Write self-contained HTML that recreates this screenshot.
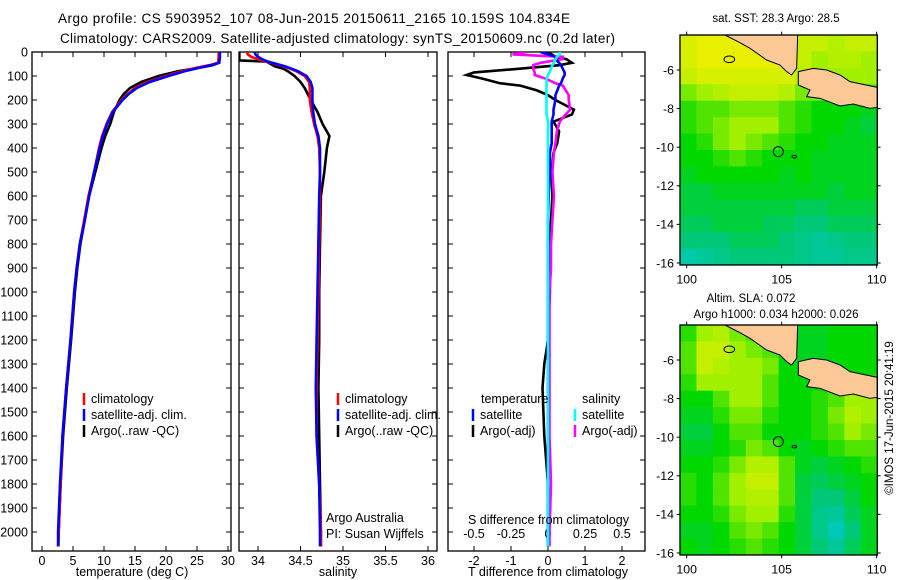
<!DOCTYPE html>
<html><head><meta charset="utf-8"><style>
html,body{margin:0;padding:0;background:#fff;}
svg{display:block;font-family:"Liberation Sans",sans-serif;}
</style></head><body>
<svg id="c" width="900" height="580" viewBox="0 0 900 580"></svg>
<script>
// ---------- data ----------
const depthTicks = [0,100,200,300,400,500,600,700,800,900,1000,1100,1200,1300,1400,1500,1600,1700,1800,1900,2000];
const tempTicks = [0,5,10,15,20,25,30];
const salTicks = [34,34.5,35,35.5,36];
const salTickLabels = ["34","34.5","35","35.5","36"];
const tdiffTicks = [-2,-1,0,1,2];
const sdiffTicks = [-0.5,-0.25,0,0.25,0.5];
const sdiffTickLabels = ["-0.5","-0.25","0","0.25","0.5"];

const depthT = [0,20,45,55,65,80,100,125,150,175,200,250,300,350,400,500,600,700,800,900,1000,1200,1400,1600,1800,2000,2060];
const climT = [28.5,28.5,28.4,27,25,22.5,20,17,15,13.8,12.8,11.3,10.4,9.7,9.2,8.4,7.5,6.8,6.1,5.6,5.2,4.6,3.9,3.3,3.0,2.7,2.6];
const satT  = [28.7,28.7,28.6,27.3,25.5,23,20.4,17.4,15.3,14,13,11.4,10.5,9.8,9.3,8.4,7.6,6.9,6.1,5.6,5.2,4.6,3.9,3.3,2.9,2.6,2.6];
const argoT = [28.6,28.6,28.5,27.5,25.5,22,18.8,16,14.2,13.2,12.5,11.6,11,10.2,9.6,8.6,7.6,6.9,6.2,5.7,5.3,4.7,4.0,3.4,3.0,2.7,2.65];

const depthS = [0,10,20,30,35,40,50,60,70,80,100,125,150,200,250,300,350,400,500,600,800,1000,1200,1400,1600,1800,2000,2060];
const climS = [33.87,33.88,33.92,34.0,34.05,34.1,34.2,34.3,34.38,34.45,34.55,34.6,34.61,34.61,34.63,34.66,34.7,34.72,34.73,34.73,34.72,34.71,34.70,34.69,34.69,34.72,34.74,34.74];
const satS  = [33.96,33.97,34.0,34.05,34.08,34.12,34.22,34.32,34.4,34.47,34.57,34.62,34.64,34.64,34.65,34.67,34.71,34.73,34.73,34.72,34.71,34.7,34.69,34.68,34.69,34.72,34.73,34.73];
const argoS = [33.78,33.78,33.78,33.78,33.78,34.1,34.15,34.2,34.3,34.35,34.43,34.5,34.55,34.62,34.7,34.76,34.84,34.81,34.78,34.74,34.73,34.72,34.72,34.71,34.72,34.73,34.74,34.74];

const depthD = [0,10,20,30,45,55,70,85,96,110,130,140,160,180,200,240,260,290,330,380,420,500,600,700,800,900,1000,1200,1300,1400,1600,1800,2000,2060];
const argoDT = [-0.05,0.1,0.2,0.5,0.65,0.3,-0.8,-2.0,-2.2,-1.8,-1.3,-0.75,-0.3,0,0.2,0.7,0.65,0.15,0.3,0.25,0.15,0.1,0.12,0.08,0.05,0.05,0.05,0.0,-0.1,-0.15,-0.1,0.0,0.0,0.0];
const satDT  = [-0.2,0,0.2,0.2,0.3,0.35,0.4,0.45,0.45,0.4,0.35,0.3,0.25,0.2,0.2,0.15,0.15,0.1,0.1,0.1,0.05,0.05,0.02,0,0,0,0,0,0,0,0,0,0,0];
const argoDS = [-0.15,-0.24,0.1,0.1,-0.05,-0.1,-0.1,-0.09,-0.09,-0.02,0.05,0.1,0.12,0.14,0.14,0.15,0.12,0.08,0.06,0.05,0.04,0.03,0.04,0.03,0.02,0.02,0.01,0.01,0.01,0.01,0.01,0.02,0.01,0.01];
const satDS  = [0.08,0.08,0.06,0.05,0.04,0.03,0.02,0.01,0,-0.01,-0.01,-0.01,-0.01,-0.01,-0.01,-0.01,-0.01,0,0,0,0,0,0,0,0,0,0,0,0,0,0,0,0,0];

const sstGrid = [
[0.85,0.9,0.9,0.9,0.9,0.9,0.9,0.8,0.8,0.75,0.8,0.8],
[0.85,0.9,0.9,0.9,0.9,0.9,0.9,0.8,0.7,0.75,0.75,0.7],
[0.8,0.85,0.85,0.85,0.85,0.85,0.85,0.75,0.7,0.7,0.7,0.7],
[0.65,0.7,0.75,0.8,0.8,0.8,0.75,0.65,0.65,0.65,0.65,0.6],
[0.55,0.6,0.6,0.65,0.65,0.65,0.6,0.55,0.5,0.5,0.5,0.45],
[0.55,0.6,0.65,0.7,0.7,0.7,0.6,0.55,0.5,0.5,0.45,0.4],
[0.5,0.55,0.65,0.7,0.65,0.6,0.55,0.5,0.5,0.45,0.45,0.45],
[0.5,0.5,0.55,0.6,0.55,0.5,0.5,0.5,0.45,0.45,0.45,0.45],
[0.45,0.5,0.5,0.5,0.5,0.5,0.45,0.5,0.45,0.45,0.45,0.45],
[0.4,0.4,0.45,0.45,0.45,0.45,0.45,0.45,0.45,0.4,0.45,0.45],
[0.4,0.4,0.4,0.4,0.4,0.4,0.4,0.35,0.35,0.4,0.4,0.4],
[0.35,0.35,0.4,0.4,0.4,0.35,0.35,0.3,0.3,0.35,0.35,0.35],
[0.3,0.3,0.3,0.35,0.35,0.35,0.3,0.25,0.2,0.25,0.3,0.3],
[0.15,0.2,0.25,0.3,0.3,0.3,0.3,0.25,0.2,0.2,0.25,0.25]];
const slaGrid = [
[0.55,0.7,0.75,0.65,0.6,0.55,0.5,0.45,0.45,0.5,0.5,0.5],
[0.6,0.8,0.8,0.7,0.65,0.6,0.5,0.45,0.45,0.5,0.5,0.5],
[0.6,0.8,0.75,0.7,0.7,0.65,0.5,0.45,0.45,0.5,0.5,0.5],
[0.55,0.7,0.7,0.7,0.7,0.6,0.5,0.5,0.5,0.55,0.55,0.55],
[0.5,0.5,0.6,0.7,0.7,0.6,0.5,0.5,0.55,0.6,0.7,0.7],
[0.45,0.45,0.55,0.65,0.65,0.55,0.5,0.5,0.55,0.65,0.75,0.7],
[0.4,0.4,0.5,0.6,0.6,0.5,0.5,0.5,0.55,0.6,0.7,0.65],
[0.45,0.45,0.5,0.55,0.65,0.6,0.5,0.45,0.5,0.55,0.6,0.6],
[0.5,0.5,0.55,0.65,0.75,0.75,0.6,0.45,0.4,0.45,0.5,0.55],
[0.55,0.5,0.6,0.7,0.8,0.8,0.6,0.4,0.35,0.4,0.45,0.5],
[0.55,0.5,0.6,0.7,0.75,0.75,0.6,0.4,0.3,0.3,0.4,0.5],
[0.5,0.5,0.55,0.65,0.7,0.7,0.55,0.4,0.25,0.2,0.35,0.45],
[0.45,0.45,0.5,0.6,0.65,0.6,0.5,0.4,0.25,0.1,0.3,0.45],
[0.5,0.45,0.5,0.55,0.6,0.55,0.5,0.4,0.3,0.2,0.35,0.45]];
const latTicks = [-6,-8,-10,-12,-14,-16];
const lonTicks = [100,105,110];

// ---------- helpers ----------
const NS = "http://www.w3.org/2000/svg";
const svg = document.getElementById("c");
function mk(tag, attrs, parent){const e=document.createElementNS(NS,tag);for(const k in attrs)e.setAttribute(k,attrs[k]);(parent||svg).appendChild(e);return e;}
function txt(s, attrs, parent){const e=mk("text",attrs,parent);e.textContent=s;return e;}

const Y0=52, YB=551;
const yD = d => Y0 + d*0.24;
const xT = t => 42 + t*6.2;
const xS = s => 258 + (s-34)*85;
const xDT = v => 548 + v*37;
const xDS = v => 548 + v*148;

const panels=[[32,231],[239,437],[448,645]];
panels.forEach((p,i)=>{
  const r=mk("rect",{x:p[0],y:Y0,width:p[1]-p[0],height:YB-Y0,fill:"none",stroke:"#000","stroke-width":1.3});
  
  
  depthTicks.forEach(d=>{
    mk("line",{x1:p[0],x2:p[0]+5,y1:yD(d),y2:yD(d),stroke:"#000","stroke-width":1});
    mk("line",{x1:p[1]-5,x2:p[1],y1:yD(d),y2:yD(d),stroke:"#000","stroke-width":1});
  });
});
depthTicks.forEach(d=>{
  const t=txt(String(d),{x:28,y:yD(d)+4.5,"text-anchor":"end","font-size":12.5});
  
  
});
function xticks(vals,labels,fx,p,ly){
  vals.forEach((v,i)=>{
    const x=fx(v);
    mk("line",{x1:x,x2:x,y1:Y0,y2:Y0+5,stroke:"#000"});
    mk("line",{x1:x,x2:x,y1:YB-5,y2:YB,stroke:"#000"});
    const t=txt(labels[i],{x:x,y:ly,"text-anchor":"middle","font-size":12.5});
    
    
  });
}
xticks(tempTicks,tempTicks.map(String),xT,panels[0],565);
xticks(salTicks,salTickLabels,xS,panels[1],565);
xticks(tdiffTicks,tdiffTicks.map(String),xDT,panels[2],565);
sdiffTicks.forEach((v,i)=>{
  const t=txt(sdiffTickLabels[i],{x:xDS(v),y:538,"text-anchor":"middle","font-size":12.5});
  
  
});

function line(depths,vals,fx,color,name,clip){
  const pts=depths.map((d,i)=>fx(vals[i]).toFixed(1)+","+yD(Math.min(d,2078)).toFixed(1)).join(" ");
  const l=mk("polyline",{points:pts,fill:"none",stroke:color,"stroke-width":2.6,"stroke-linejoin":"miter","clip-path":clip});
  
  
}
const defs=mk("defs",{});
panels.forEach((p,i)=>{const cp=mk("clipPath",{id:"cp"+i},defs);mk("rect",{x:p[0],y:Y0,width:p[1]-p[0],height:YB-Y0},cp);});

line(depthT,argoT,xT,"#000","argo-temperature-line","url(#cp0)");
line(depthT,climT,xT,"#f00","climatology-temperature-line","url(#cp0)");
line(depthT,satT,xT,"#00f","satellite-temperature-line","url(#cp0)");
line(depthS,argoS,xS,"#000","argo-salinity-line","url(#cp1)");
line(depthS,climS,xS,"#f00","climatology-salinity-line","url(#cp1)");
line(depthS,satS,xS,"#00f","satellite-salinity-line","url(#cp1)");
line(depthD,argoDT,xDT,"#000","argo-t-diff-line","url(#cp2)");
line(depthD,argoDS,xDS,"#f0f","argo-s-diff-line","url(#cp2)");
line(depthD,satDT,xDT,"#00f","satellite-t-diff-line","url(#cp2)");
line(depthD,satDS,xDS,"#0ff","satellite-s-diff-line","url(#cp2)");

// legends
function leg(x,y,color,label,name){
  mk("line",{x1:x,x2:x,y1:y-10,y2:y+2,stroke:color,"stroke-width":2.5});
  const t=txt(label,{x:x+7,y:y,"font-size":12.5});
  
  
}
leg(84,403,"#f00","climatology","legend-climatology");
leg(84,419,"#00f","satellite-adj. clim.","legend-satellite-adj");
leg(84,435,"#000","Argo(..raw -QC)","legend-argo");
leg(338,403,"#f00","climatology","legend-climatology-2");
leg(338,419,"#00f","satellite-adj. clim.","legend-satellite-adj-2");
leg(338,435,"#000","Argo(..raw -QC)","legend-argo-2");
txt("temperature",{x:481,y:403,"font-size":12.5});
txt("salinity",{x:582,y:403,"font-size":12.5});
leg(473,419,"#00f","satellite","legend-t-satellite");
leg(473,435,"#000","Argo(-adj)","legend-t-argo");
leg(575,419,"#0ff","satellite","legend-s-satellite");
leg(575,435,"#f0f","Argo(-adj)","legend-s-argo");
txt("Argo Australia",{x:326,y:522,"font-size":12.5});
txt("PI: Susan Wijffels",{x:326,y:538,"font-size":12.5});
txt("S difference from climatology",{x:468,y:524,"font-size":12.5});

// axis titles
[["temperature (deg C)",132,"x-axis-title-temperature"],["salinity",338,"x-axis-title-salinity"],["T difference from climatology",548,"x-axis-title-tdiff"]].forEach(a=>{
  const t=txt(a[0],{x:a[1],y:576,"text-anchor":"middle","font-size":12.5});
  
  
});
// titles
let t1=txt("Argo profile: CS 5903952_107 08-Jun-2015 20150611_2165 10.159S 104.834E",{x:58,y:23,"font-size":13.5,textLength:512});


let t2=txt("Climatology: CARS2009. Satellite-adjusted climatology: synTS_20150609.nc (0.2d later)",{x:60,y:43,"font-size":13.5,textLength:555});



// ---------- maps ----------
function color(v){
  const stops=[[0,[0,200,216]],[0.3,[0,200,120]],[0.5,[0,216,0]],[0.7,[160,240,0]],[0.9,[232,240,0]],[1,[240,208,0]]];
  for(let i=1;i<stops.length;i++){if(v<=stops[i][0]){const a=stops[i-1],b=stops[i];const f=(v-a[0])/(b[0]-a[0]);return "rgb("+a[1].map((c,j)=>Math.round(c+(b[1][j]-c)*f)).join(",")+")";}}
  return "rgb(240,208,0)";
}
function map(oy,grid,name){
  const g=mk("g",{transform:"translate(640,"+oy+") scale(0.3333)"});
  
  
  const x0=120,y0=105,w=592,h=690,cw=w/12,ch=h/14;
  grid.forEach((row,r)=>row.forEach((v,c)=>{
    const cell=mk("rect",{x:x0+c*cw,y:y0+r*ch,width:cw+1,height:ch+1,fill:color(v)},g);
    
    
  }));
  const land1=mk("polygon",{points:"255,105 300,128 330,145 380,180 420,195 440,215 455,225 470,205 473,105",fill:"#fcc896",stroke:"#000","stroke-width":3},g);
  
  
  const land2=mk("polygon",{points:"475,215 520,205 560,210 600,225 630,245 712,262 712,322 690,325 640,312 600,318 540,295 500,290 510,270 475,255",fill:"#fcc896",stroke:"#000","stroke-width":3},g);
  
  
  mk("ellipse",{cx:268,cy:178,rx:16,ry:10,fill:"none",stroke:"#000","stroke-width":3},g);
  mk("ellipse",{cx:463,cy:470,rx:7,ry:4,fill:"none",stroke:"#000","stroke-width":3},g);
  const m=mk("circle",{cx:415,cy:455,r:15,fill:"none",stroke:"#000","stroke-width":3},g);
  
  
  mk("rect",{x:x0,y:y0,width:w,height:h,fill:"none",stroke:"#000","stroke-width":4},g);
  latTicks.forEach(l=>{
    const y=70*3+(-6-l)*57.9;
    mk("line",{x1:x0,x2:x0-10,y1:y,y2:y,stroke:"#000","stroke-width":3},g);
    mk("line",{x1:x0+w,x2:x0+w+10,y1:y,y2:y,stroke:"#000","stroke-width":3},g);
    const t=txt(String(l),{x:x0-18,y:y+13,"text-anchor":"end","font-size":37},g);
    
    
  });
  lonTicks.forEach(l=>{
    const x=140+(l-100)*57;
    mk("line",{x1:x,x2:x,y1:y0,y2:y0-10,stroke:"#000","stroke-width":3},g);
    mk("line",{x1:x,x2:x,y1:y0+h,y2:y0+h+10,stroke:"#000","stroke-width":3},g);
    const t=txt(String(l),{x:x,y:850,"text-anchor":"middle","font-size":37},g);
    
    
  });
}
map(0,sstGrid,"sst-map");
map(290,slaGrid,"sla-map");
let mt=txt("sat. SST: 28.3 Argo: 28.5",{x:776,y:22,"text-anchor":"middle","font-size":11.5});


mt=txt("Altim. SLA: 0.072",{x:751,y:302,"text-anchor":"middle","font-size":11.5});


mt=txt("Argo h1000: 0.034 h2000: 0.026",{x:776,y:318,"text-anchor":"middle","font-size":11.5});


mt=txt("©IMOS 17-Jun-2015 20:41:19",{x:0,y:0,"text-anchor":"middle","font-size":11.5,transform:"translate(893,418) rotate(-90)"});


</script>
</body></html>
